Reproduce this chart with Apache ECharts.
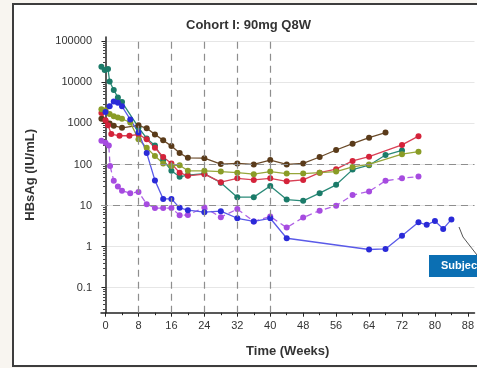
<!DOCTYPE html>
<html>
  <head>
    <title></title>
    <meta charset="UTF-8" />
    <script src="https://cdn.jsdelivr.net/npm/echarts@6/dist/echarts.min.js"></script>
  </head>
  <body style="margin:0">
    <div id="main"></div>
    <script>
      const width = 477;
      const height = 368;
      const main = document.getElementById('main');
      main.style.width = `${width}px`;
      main.style.height = `${height}px`;

      // x ticks (weeks) and y decades
      const xTicks = [0, 8, 16, 24, 32, 40, 48, 56, 64, 72, 80, 88];
      const xMinorTicks = [4, 12, 20, 28, 36, 44, 52, 60, 68, 76, 84];
      const yTicks = [0.1, 1, 10, 100, 1000, 10000, 100000];
      const doseWeeks = [8, 16, 24, 32, 40];
      const refLevels = [10, 100];

      // subjects: visit week / HBsAg (IU/mL)
      const tealWeeks = [-1, -0.2, 0.6, 1, 2, 3, 4, 8, 10, 12, 14, 16, 18, 20, 24, 28, 32, 36, 40, 44, 48, 52, 56, 60, 64, 68, 72];
      const tealVals = [24000, 20000, 21000, 10500, 6500, 4300, 3300, 800, 430, 290, 130, 70, 50, 55, 60, 36, 16, 16, 30, 14, 13, 20, 32, 75, 96, 170, 220];

      const blueWeeks = [0, 1, 2, 3, 4, 6, 8, 10, 12, 14, 16, 18, 20, 24, 28, 32, 36, 40, 44, 64, 68, 72, 76, 78, 80, 82, 84];
      const blueVals = [1900, 2600, 3400, 3200, 2600, 1250, 600, 190, 41, 14.5, 14.5, 8.8, 7.7, 6.9, 7.3, 4.9, 4.1, 4.9, 1.6, 0.85, 0.88, 1.85, 3.9, 3.4, 4.2, 2.7, 4.6];

      const brownWeeks = [-1, 0, 1, 2, 4, 8, 10, 12, 14, 16, 18, 20, 24, 28, 32, 36, 40, 44, 48, 52, 56, 60, 64, 68];
      const brownVals = [1300, 1150, 1000, 880, 780, 900, 760, 540, 390, 280, 190, 145, 142, 102, 106, 100, 128, 100, 106, 152, 225, 320, 450, 600];

      const redWeeks = [-1, 0, 0.6, 1.4, 3.4, 5.8, 8, 10, 12, 14, 16, 18, 20, 24, 28, 32, 36, 40, 44, 48, 52, 56, 60, 64, 72, 76];
      const redVals = [1800, 1200, 900, 550, 500, 500, 540, 410, 255, 153, 105, 63, 53, 58, 37, 46, 42, 46, 39, 42, 63, 77, 122, 155, 300, 490];

      const oliveWeeks = [-1, 0, 1, 2, 3, 4, 6, 8, 10, 12, 14, 16, 18, 20, 24, 28, 32, 36, 40, 44, 48, 52, 56, 60, 64, 72, 76];
      const oliveVals = [2200, 2100, 1700, 1500, 1400, 1300, 1050, 410, 255, 160, 105, 92, 96, 70, 70, 67, 63, 58, 67, 60, 60, 63, 67, 87, 100, 178, 205];

      const purpleWeeks = [-1, 0, 0.8, 1.1, 2, 3, 4, 6, 8, 10, 12, 14, 16, 18, 20, 24, 28, 32, 36, 40, 44, 48, 52, 56, 60, 64, 68, 72, 76];
      const purpleVals = [380, 340, 290, 92, 40, 29, 23, 20, 21.5, 10.8, 8.7, 8.7, 8.7, 5.8, 5.9, 9, 5.2, 8.2, 4.1, 5.4, 2.9, 5.1, 7.5, 9.9, 18, 22, 40, 46, 51];

      function pairs(ws, vs) {
        return ws.map((w, i) => [w, vs[i]]);
      }

      function minorLogValues() {
        const out = [];
        for (let e = -2; e <= 5; e++) {
          for (let m = 2; m <= 9; m++) {
            const v = +(m * Math.pow(10, e)).toPrecision(6);
            if (v > 0.0246 && v < 127000) out.push(v);
          }
        }
        return out;
      }

      function subject(name, ws, vs, color, lineColor, dashed) {
        return {
          name: name,
          type: 'line',
          data: pairs(ws, vs),
          symbol: 'circle',
          symbolSize: 6,
          itemStyle: { color: color },
          lineStyle: {
            color: lineColor,
            width: 1.3,
            type: dashed ? [6, 4] : 'solid',
          },
          z: 3,
        };
      }

      const dashLine = { type: [7, 5], color: '#8e8e8e', width: 1.2 };

      const axisFont = { fontFamily: 'Liberation Sans', color: '#333' };

      const myChart = echarts.init(main);
      const option = {
        backgroundColor: '#f8f5f0',
        animation: false,
        title: {
          text: 'Cohort I: 90mg Q8W',
          left: 181,
          top: 14,
          textStyle: {
            fontFamily: 'Liberation Sans',
            fontSize: 13,
            fontWeight: 'bold',
            color: '#333',
          },
        },
        graphic: [
          {
            type: 'rect',
            z: -10,
            shape: { x: 13, y: 4, width: 480, height: 362 },
            style: { fill: '#fff', stroke: '#3d3d3d', lineWidth: 2 },
          },
          {
            type: 'polyline',
            z: 10,
            shape: { points: [[459, 227], [463, 237], [470, 246], [477, 255]] },
            style: { stroke: '#555', lineWidth: 1, fill: null },
          },
          {
            type: 'rect',
            z: 10,
            shape: { x: 429, y: 255, width: 60, height: 22 },
            style: { fill: '#0b6fb3' },
          },
          {
            type: 'text',
            z: 11,
            x: 441,
            y: 266,
            style: {
              text: 'Subject',
              fill: '#fff',
              font: 'bold 11px "Liberation Sans"',
              verticalAlign: 'middle',
            },
          },
        ],
        grid: { left: 101, top: 37, width: 378, height: 275.7 },
        xAxis: [
          {
            type: 'value',
            min: -1.1,
            max: 89.6,
            name: 'Time (Weeks)',
            nameLocation: 'middle',
            nameGap: 32,
            nameTextStyle: Object.assign({ fontSize: 13, fontWeight: 'bold' }, axisFont),
            axisLine: { lineStyle: { color: '#222', width: 1.5 } },
            axisTick: { customValues: xTicks, length: 4, lineStyle: { color: '#222' } },
            axisLabel: Object.assign({ customValues: xTicks, fontSize: 11, margin: 8 }, axisFont),
            splitLine: { show: false },
          },
          {
            type: 'value',
            min: -1.1,
            max: 89.6,
            position: 'bottom',
            axisLine: { show: false },
            axisTick: { customValues: xMinorTicks, length: 2.5, lineStyle: { color: '#222' } },
            axisLabel: { show: false },
            splitLine: { show: false },
          },
        ],
        yAxis: [
          {
            type: 'log',
            logBase: 10,
            min: 0.0246,
            max: 127000,
            name: 'HBsAg (IU/mL)',
            nameLocation: 'middle',
            nameGap: 64,
            nameTextStyle: Object.assign({ fontSize: 13, fontWeight: 'bold' }, axisFont),
            axisLine: { show: true, lineStyle: { color: '#222', width: 1.5 } },
            axisTick: { show: true, customValues: yTicks, length: 4, lineStyle: { color: '#222' } },
            axisLabel: Object.assign({
              customValues: yTicks,
              fontSize: 11,
              margin: 9,
              formatter: (v) => String(+(+v).toPrecision(6)),
            }, axisFont),
            splitLine: { show: true, lineStyle: { color: '#e6e6e6', width: 1 } },
          },
          {
            type: 'log',
            logBase: 10,
            min: 0.0246,
            max: 127000,
            position: 'left',
            axisLine: { show: false },
            axisTick: { show: true, customValues: minorLogValues(), length: 2.5, lineStyle: { color: '#444' } },
            axisLabel: { show: false },
            splitLine: { show: false },
          },
        ],
        series: [
          {
            type: 'line',
            data: [],
            markLine: {
              silent: true,
              symbol: 'none',
              label: { show: false },
              lineStyle: dashLine,
              data: doseWeeks.map((w) => ({ xAxis: w })).concat(refLevels.map((v) => ({ yAxis: v }))),
            },
            z: 1,
          },
          subject('S1', tealWeeks, tealVals, '#1b7b69', '#2a8a78', false),
          subject('S2', brownWeeks, brownVals, '#5a3b1a', '#6b4b2a', false),
          subject('S3', redWeeks, redVals, '#d4233a', '#d94055', false),
          subject('S4', oliveWeeks, oliveVals, '#8a9c26', '#96a63a', false),
          subject('S5', purpleWeeks, purpleVals, '#a64be0', '#b062e6', true),
          subject('S6', blueWeeks, blueVals, '#2a2ad8', '#5a5ae8', false),
        ],
      };
      myChart.setOption(option);
    </script>
  </body>
</html>
